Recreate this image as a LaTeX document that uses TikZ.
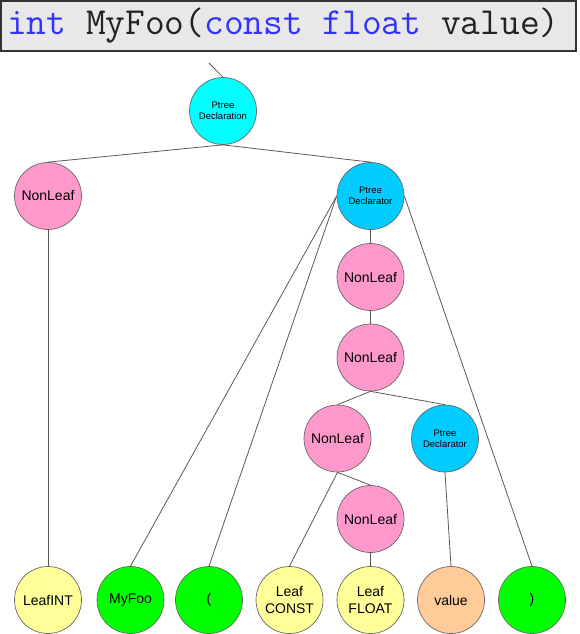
\documentclass[tikz,border=0pt]{standalone}
\usepackage{fontspec}
\setmainfont{Liberation Sans}
\definecolor{kwblue}{HTML}{3333FF}
\definecolor{codegray}{HTML}{222222}
\definecolor{bannerfill}{HTML}{E8E8E8}
\definecolor{declcyan}{HTML}{00FFFF}
\definecolor{declrblue}{HTML}{00CCFF}
\definecolor{nonleafpink}{HTML}{FF99CC}
\definecolor{leafyellow}{HTML}{FFFF99}
\definecolor{tokgreen}{HTML}{00FF00}
\definecolor{valorange}{HTML}{FFCC99}
\begin{document}
\begin{tikzpicture}[x=1pt, y=-1pt,
		treenode/.style={circle, draw=black!60, line width=0.7pt, minimum size=67pt, inner sep=0pt, align=center, font=\fontsize{14}{16.5}\selectfont},
		ptree/.style={treenode, font=\fontsize{9.5}{11}\selectfont},
		edge/.style={draw=black!65, line width=0.8pt}]

		\useasboundingbox (0, 0) rectangle (580, 634);

		% source line
		\draw[draw=black!80, line width=2pt, fill=bannerfill] (1, 1) rectangle (576, 51);
		\node[anchor=base west, inner sep=0pt, font=\fontsize{38.3}{38.3}\ttfamily, text=codegray] (code) at (7, 35)
			{\textcolor{kwblue}{int} MyFoo(\textcolor{kwblue}{const} \textcolor{kwblue}{float} value)};

		% inner nodes
		\node[ptree, fill=declcyan] (decl) at (223, 111) {Ptree\\Declaration};
		\node[treenode, fill=nonleafpink] (nlint) at (48, 196) {NonLeaf};
		\node[ptree, fill=declrblue] (declr) at (370.5, 196) {Ptree\\Declarator};
		\node[treenode, fill=nonleafpink] (nla) at (370.5, 277) {NonLeaf};
		\node[treenode, fill=nonleafpink] (nlb) at (370.5, 357.5) {NonLeaf};
		\node[treenode, fill=nonleafpink] (nlc) at (337.5, 438.5) {NonLeaf};
		\node[ptree, fill=declrblue] (declrval) at (445, 438.5) {Ptree\\Declarator};
		\node[treenode, fill=nonleafpink] (nld) at (370.5, 519) {NonLeaf};

		% leaves
		\node[treenode, fill=leafyellow] (leafint) at (48, 600) {LeafINT};
		\node[treenode, fill=tokgreen] (myfoo) at (130.5, 600) {MyFoo};
		\node[treenode, fill=tokgreen] (lparen) at (209, 600) {(};
		\node[treenode, fill=leafyellow] (leafconst) at (289.5, 600) {Leaf\\CONST};
		\node[treenode, fill=leafyellow] (leaffloat) at (370.5, 600) {Leaf\\FLOAT};
		\node[treenode, fill=valorange] (value) at (451, 600) {value};
		\node[treenode, fill=tokgreen] (rparen) at (532, 600) {)};

		% connectors
		\coordinate (up) at (209, 63);
		\draw[edge] (up) -- (decl.north);
		\draw[edge] (decl.south) -- (nlint.north);
		\draw[edge] (decl.south) -- (declr.north);
		\draw[edge] (nlint.south) -- (leafint.north);
		\draw[edge] (declr.west) -- (myfoo.north);
		\draw[edge] (declr.west) -- (lparen.north);
		\draw[edge] (declr.east) -- (rparen.north);
		\draw[edge] (declr.south) -- (nla.north);
		\draw[edge] (nla.south) -- (nlb.north);
		\draw[edge] (nlb.south) -- (nlc.north);
		\draw[edge] (nlb.south) -- (declrval.north);
		\draw[edge] (nlc.south) -- (leafconst.north);
		\draw[edge] (nlc.south) -- (nld.north);
		\draw[edge] (nld.south) -- (leaffloat.north);
		\draw[edge] (declrval.south) -- (value.north);
	\end{tikzpicture}
\end{document}
